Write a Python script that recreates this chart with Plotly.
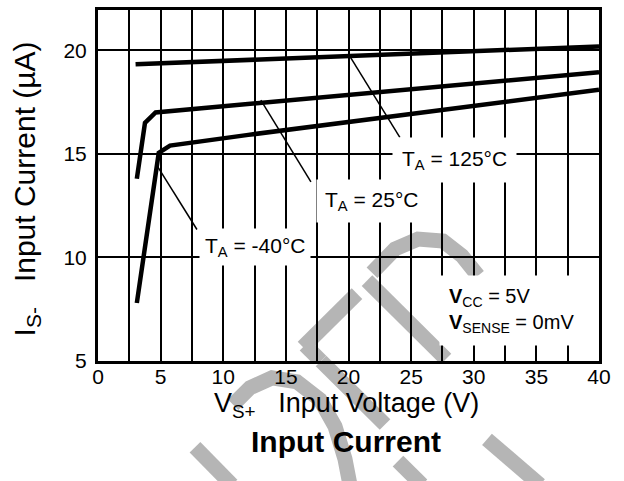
import plotly.graph_objects as go

# curve data (V_S+ in volts, I_S- in uA)
v_125 = [3.0, 17.7, 40.0]
i_125 = [19.33, 19.67, 20.19]

v_25 = [3.1, 3.75, 4.6, 40.0]
i_25 = [13.8, 16.5, 17.0, 18.95]

v_m40 = [3.1, 4.85, 5.75, 12.0, 40.0]
i_m40 = [7.8, 15.05, 15.4, 15.92, 18.1]

x_ticks = [0, 5, 10, 15, 20, 25, 30, 35, 40]
y_ticks = [5, 10, 15, 20]

X_RANGE = [0, 40]
Y_RANGE = [5, 21.95]

FONT = "Arial, Liberation Sans, sans-serif"

# plot area in pixels (624x481 page)
L, R, T, B = 98, 599, 7, 361


def px2x(px):
    return (px - L) / (R - L)


def py2y(py):
    return (B - py) / (B - T)


def px2data(px):
    return X_RANGE[0] + px2x(px) * (X_RANGE[1] - X_RANGE[0])


def py2data(py):
    return Y_RANGE[0] + py2y(py) * (Y_RANGE[1] - Y_RANGE[0])


def split_at_bottom(pts):
    # cut a polyline into pieces inside / below the plot area
    pieces = []
    cur = [pts[0]]
    inside = pts[0][1] <= B
    for (x0, y0), (x1, y1) in zip(pts[:-1], pts[1:]):
        now_inside = y1 <= B
        if now_inside != inside:
            t = (B - y0) / (y1 - y0)
            xc = x0 + t * (x1 - x0)
            cur.append((xc, B))
            pieces.append((inside, cur))
            cur = [(xc, B)]
            inside = now_inside
        cur.append((x1, y1))
    pieces.append((inside, cur))
    return pieces


fig = go.Figure()

for xs, ys, name in [(v_125, i_125, "125"), (v_25, i_25, "25"), (v_m40, i_m40, "-40")]:
    fig.add_trace(go.Scatter(x=xs, y=ys, mode="lines", name=name,
                             line=dict(color="black", width=4.5),
                             showlegend=False, hoverinfo="skip"))

# faint watermark behind everything
gray = "#b5b5b5"
marks = [
    [(195, 448), (232, 486)],
    [(233, 405), (250, 388), (272, 378), (297, 382), (320, 400), (335, 427), (345, 460), (350, 486)],
    [(305, 345), (385, 425)],
    [(303, 347), (357, 293)],
    [(367, 280), (446, 359)],
    [(372, 272), (395, 248), (418, 238), (443, 240), (462, 255), (478, 275)],
    [(398, 462), (422, 486)],
    [(487, 440), (540, 486)],
]
shapes = []
for pts in marks:
    for inside, piece in split_at_bottom(pts):
        if len(piece) < 2:
            continue
        if inside:
            path = "M " + " L ".join(f"{px2data(a):.4f},{py2data(b):.4f}" for a, b in piece)
            shapes.append(dict(type="path", path=path, xref="x", yref="y",
                               line=dict(color=gray, width=15), layer="below"))
        else:
            path = "M " + " L ".join(f"{px2x(a):.4f},{py2y(b):.4f}" for a, b in piece)
            shapes.append(dict(type="path", path=path, xref="paper", yref="paper",
                               line=dict(color=gray, width=15), layer="below"))

# leader lines from labels to curves
leaders = [((20.1, 19.72), (24.1, 15.8)),
           ((13.0, 17.6), (17.0, 13.65)),
           ((4.75, 14.4), (7.9, 11.35))]
for (x0, y0), (x1, y1) in leaders:
    shapes.append(dict(type="line", x0=x0, y0=y0, x1=x1, y1=y1, xref="x", yref="y",
                       line=dict(color="black", width=1.5), layer="above"))

lab_font = dict(family=FONT, size=21, color="black")
ann = [
    dict(x=28.5, y=14.7, text="T<sub>A</sub> = 125°C", borderpad=9),
    dict(x=21.8, y=12.75, text="T<sub>A</sub> = 25°C", borderpad=8),
    dict(x=12.5, y=10.5, text="T<sub>A</sub> = -40°C", borderpad=5),
]
annotations = []
for a in ann:
    annotations.append(dict(x=a["x"], y=a["y"], xref="x", yref="y", text=a["text"],
                            xanchor="center", yanchor="middle",
                            showarrow=False, font=lab_font, bgcolor="white",
                            borderpad=a["borderpad"]))

annotations.append(dict(x=27.2, y=7.45, xref="x", yref="y", xanchor="left", yanchor="middle",
                        text="<b>V</b><sub>CC</sub> = 5V<br><b>V</b><sub>SENSE</sub> = 0mV",
                        align="left", showarrow=False, font=dict(family=FONT, size=20, color="black"),
                        bgcolor="white", borderpad=9))

# axis titles
annotations.append(dict(x=px2x(346), y=py2y(405), xref="paper", yref="paper",
                        xanchor="center", yanchor="middle",
                        text="V<sub>S+</sub>&nbsp;&nbsp;&nbsp;Input Voltage (V)", showarrow=False,
                        font=dict(family=FONT, size=27, color="black")))
annotations.append(dict(x=px2x(26), y=py2y(188), xref="paper", yref="paper",
                        xanchor="center", yanchor="middle",
                        text="I<sub>S-</sub>&nbsp;&nbsp;&nbsp;Input Current (µA)", textangle=-90,
                        showarrow=False, font=dict(family=FONT, size=30, color="black")))
annotations.append(dict(x=px2x(346), y=py2y(442), xref="paper", yref="paper",
                        xanchor="center", yanchor="middle",
                        text="<b>Input Current</b>", showarrow=False,
                        font=dict(family=FONT, size=30, color="black")))

fig.update_layout(
    width=624, height=481,
    margin=dict(l=L, r=624 - R, t=T, b=481 - B),
    plot_bgcolor="white", paper_bgcolor="white",
    font=dict(family=FONT, size=21, color="black"),
    shapes=shapes, annotations=annotations,
    xaxis=dict(range=X_RANGE, tickvals=x_ticks, showgrid=True, gridcolor="black",
               gridwidth=1.5, showline=True, linecolor="black", linewidth=3, mirror=True,
               zeroline=False, ticks="", ticklabelstandoff=-5,
               minor=dict(dtick=2.5, tick0=0, showgrid=True, gridcolor="black", gridwidth=1.5)),
    yaxis=dict(range=Y_RANGE, tickvals=y_ticks, showgrid=True, gridcolor="black",
               gridwidth=1.5, showline=True, linecolor="black", linewidth=3, mirror=True,
               zeroline=False, ticks="", ticklabelstandoff=4),
)

fig.write_html("out.html", config={"displayModeBar": False},
               post_script="document.body.style.margin='0px';")
